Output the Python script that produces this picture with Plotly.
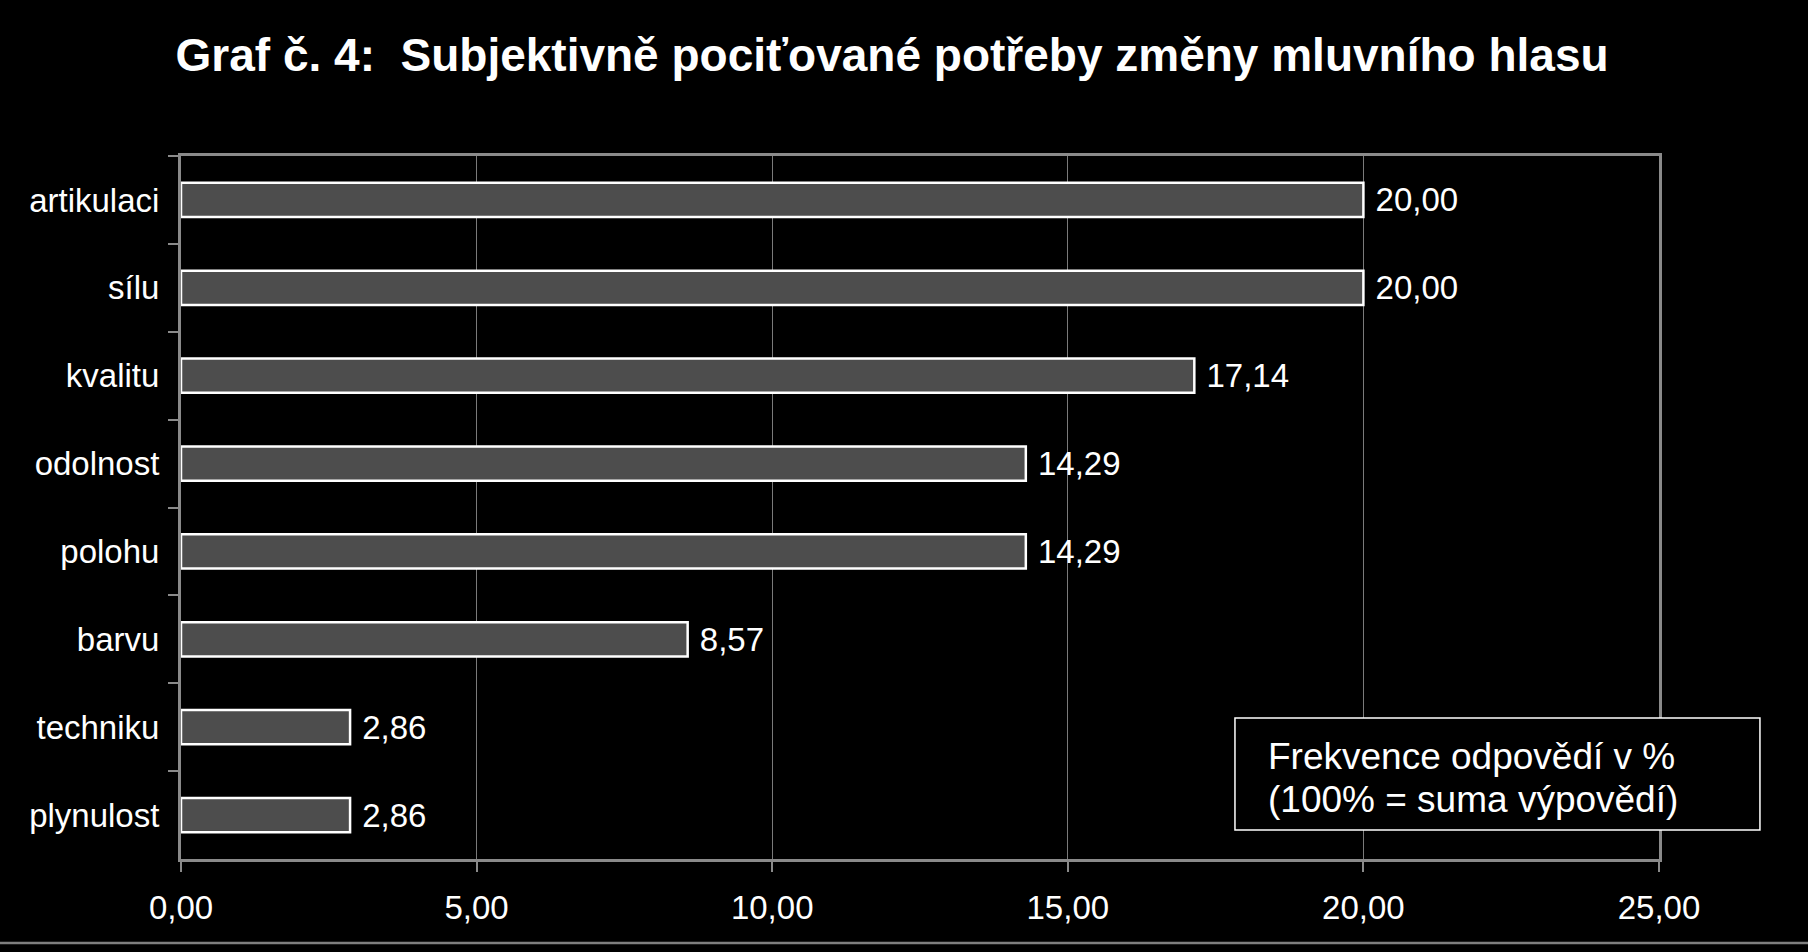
import plotly.graph_objects as go

# ========== DATA ==========

categories = ['artikulaci', 'sílu', 'kvalitu', 'odolnost',
              'polohu', 'barvu', 'techniku', 'plynulost']
values = [20.00, 20.00, 17.14, 14.29, 14.29, 8.57, 2.86, 2.86]
x_ticks = [0, 5, 10, 15, 20, 25]

title_text = 'Graf č. 4:\u00a0\u00a0Subjektivně pociťované potřeby změny mluvního hlasu'
note_lines = ['Frekvence odpovědí v %', '(100% = suma výpovědí)']

# ========== STYLE ==========

FONT = 'Liberation Sans, Arial, sans-serif'
AXIS_GREY = '#8a8a8a'
GRID_GREY = '#7a7a7a'
BAR_FILL = '#4d4d4d'
LABEL_SIZE = 33

fig = go.Figure()

fig.add_trace(go.Bar(
    x=values,
    y=categories,
    orientation='h',
    marker=dict(color=BAR_FILL, line=dict(color='white', width=2.5)),
    texttemplate='\u00a0%{x:.2f}',
    textposition='outside',
    textfont=dict(family=FONT, size=LABEL_SIZE, color='white'),
    constraintext='none',
    cliponaxis=False,
    hoverinfo='skip',
))

fig.update_layout(
    width=1808,
    height=952,
    paper_bgcolor='black',
    plot_bgcolor='black',
    separators=', ',
    showlegend=False,
    bargap=0.61,
    margin=dict(l=181, r=149, t=156, b=93, autoexpand=False),
    font=dict(family=FONT, color='white', size=LABEL_SIZE),
    title=dict(
        text=title_text,
        font=dict(family=FONT, size=46, color='white', weight='bold'),
        x=0.4934,
        xanchor='center',
        xref='container',
        y=1 - 55 / 952,
        yanchor='middle',
        yref='container',
    ),
)

fig.update_xaxes(
    range=[0, 25],
    tickvals=x_ticks,
    tickformat='.2f',
    ticks='outside',
    ticklen=10,
    tickwidth=1.5,
    tickcolor=AXIS_GREY,
    ticklabelstandoff=7,
    tickfont=dict(family=FONT, size=LABEL_SIZE, color='white'),
    showgrid=True,
    gridcolor=GRID_GREY,
    gridwidth=1,
    zeroline=False,
    showline=True,
    linecolor=AXIS_GREY,
    linewidth=3,
    mirror=True,
)

fig.update_yaxes(
    type='category',
    categoryorder='array',
    categoryarray=categories,
    autorange='reversed',
    tickson='boundaries',
    ticks='outside',
    ticklen=10,
    tickwidth=1.5,
    tickcolor=AXIS_GREY,
    ticklabelstandoff=12,
    tickfont=dict(family=FONT, size=LABEL_SIZE, color='white'),
    showgrid=False,
    showline=True,
    linecolor=AXIS_GREY,
    linewidth=3,
    mirror=True,
)

# note box (sits over the gridlines and right border)
fig.add_shape(
    type='rect', xref='paper', yref='paper',
    x0=0.7131, x1=1.0683, y0=0.0413, y1=0.2006,
    fillcolor='black', line=dict(color='white', width=1.5),
    layer='above',
)
for line_text, y_pos in zip(note_lines, [0.1451, 0.0853]):
    fig.add_annotation(
        xref='paper', yref='paper',
        x=0.7341, y=y_pos,
        xanchor='left', yanchor='middle',
        text=line_text,
        showarrow=False,
        font=dict(family=FONT, size=37, color='white'),
    )

# slide rule line at the bottom
fig.add_shape(
    type='line', xref='paper', yref='paper',
    x0=-0.13, x1=1.11, y0=-0.1195, y1=-0.1195,
    line=dict(color='#7f7f7f', width=2.5),
)

# page body: no white margin around the chart, no modebar
fig.write_html(
    'out.html',
    config={'displayModeBar': False},
    post_script="document.body.style.margin='0';"
                "document.body.style.background='black';"
                "document.body.style.overflow='hidden';",
)
